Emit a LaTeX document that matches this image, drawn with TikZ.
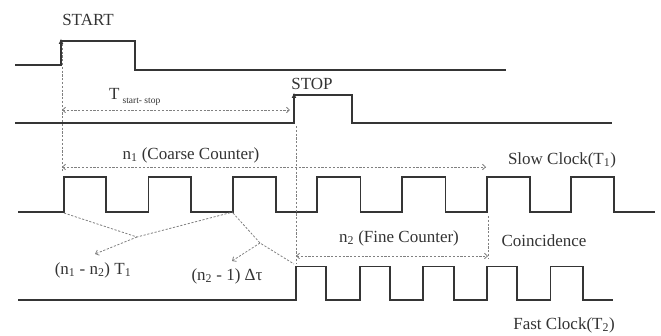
\documentclass[tikz,border=0pt]{standalone}
\usepackage{fontspec}
\setmainfont{Liberation Serif}
\usetikzlibrary{arrows.meta}
\definecolor{sigc}{HTML}{353535}
\definecolor{dimc}{HTML}{808080}
\definecolor{txtc}{HTML}{333333}
\begin{document}
\begin{tikzpicture}[x=1pt,y=-1pt,
  sig/.style={draw=sigc, line width=1.7pt, line join=miter},
  tipup/.style={draw=sigc, line width=1.7pt, -{Latex[length=5.5pt,width=5pt]}},
  dim/.style={draw=dimc, line width=0.8pt, dash pattern=on 2.2pt off 1.6pt},
  dimarr/.style={dim, -{Straight Barb[length=3pt,width=5.5pt]}},
  dimboth/.style={dim, {Straight Barb[length=3pt,width=5.5pt]}-{Straight Barb[length=3pt,width=5.5pt]}},
  lbl/.style={font=\fontsize{17}{19}\selectfont, text=txtc, inner sep=0pt}]
\useasboundingbox (0,0) rectangle (661,336);
% signals
\draw[sig] (15,65) -- (61,65) -- (61,41) -- (135,41) -- (135,70) -- (506,70);
\draw[tipup] (61,60) -- (61,38.5);
\draw[sig] (15,123) -- (294,123) -- (294,95) -- (352,95) -- (352,123) -- (612,123);
\draw[tipup] (294,118) -- (294,92.5);
\draw[sig] (18,212) -- (64,212) -- (64,177) -- (106,177) -- (106,212) -- (148.5,212) -- (148.5,177) -- (191,177) -- (191,212) -- (233,212) -- (233,177) -- (276,177) -- (276,212) -- (317,212) -- (317,177) -- (360.5,177) -- (360.5,212) -- (402,212) -- (402,177) -- (445.5,177) -- (445.5,212) -- (487,212) -- (487,177) -- (530,177) -- (530,212) -- (571,212) -- (571,177) -- (614,177) -- (614,212) -- (655,212);
\draw[sig] (18,300) -- (296,300) -- (296,266.5) -- (326,266.5) -- (326,300) -- (360,300) -- (360,266.5) -- (390,266.5) -- (390,300) -- (423,300) -- (423,266.5) -- (454,266.5) -- (454,300) -- (487,300) -- (487,266.5) -- (517,266.5) -- (517,300) -- (550.5,300) -- (550.5,266.5) -- (583,266.5) -- (583,300) -- (613,300);
% reference coordinates
\coordinate (startv1) at (62,44);
\coordinate (startv2) at (62,171);
\coordinate (stopv1) at (296,126);
\coordinate (stopv2) at (296,264);
\coordinate (coinv1) at (488,216);
\coordinate (coinv2) at (488,259);
\coordinate (tL) at (62,110);
\coordinate (tR) at (290,110);
\coordinate (n1L) at (62,167);
\coordinate (n1R) at (486,167);
\coordinate (n2L) at (296,256);
\coordinate (n2R) at (488,256);
\coordinate (bA1) at (64,213);
\coordinate (bA2) at (233,212);
\coordinate (bAm) at (137,237);
\coordinate (bAt) at (95,254);
\coordinate (bB1) at (233,213);
\coordinate (bB2) at (294,264);
\coordinate (bBm) at (260,243);
\coordinate (bBt) at (232,261);
% dashed lines
\draw[dim] (startv1) -- (startv2);
\draw[dim] (stopv1) -- (stopv2);
\draw[dim] (coinv1) -- (coinv2);
\draw[dimboth] (tL) -- (tR);
\draw[dimboth] (n1L) -- (n1R);
\draw[dimboth] (n2L) -- (n2R);
\draw[dim] (bA1) -- (bAm) -- (bA2);
\draw[dimarr] (bAm) -- (bAt);
\draw[dim] (bB1) -- (bBm) -- (bB2);
\draw[dimarr] (bBm) -- (bBt);
% labels
\node[lbl] (start) at (88,20) {START};
\node[lbl] (stop) at (312,84) {STOP};
\node[lbl, anchor=west] (tss) at (109,97) {T\hspace{3pt}\raisebox{-4pt}{\fontsize{9.5}{9.5}\selectfont start- stop}};
\node[lbl] (n1) at (191,155) {n\textsubscript{1} (Coarse Counter)};
\node[lbl] (slow) at (562,160) {Slow Clock(T\textsubscript{1})};
\node[lbl] (n2) at (399,238) {n\textsubscript{2} (Fine Counter)};
\node[lbl] (coin) at (544,241) {Coincidence};
\node[lbl] (n1n2) at (93,270) {(n\textsubscript{1} - n\textsubscript{2}) T\textsubscript{1}};
\node[lbl] (n2m1) at (227,276) {(n\textsubscript{2} - 1) Δτ};
\node[lbl] (fast) at (564,325) {Fast Clock(T\textsubscript{2})};
\end{tikzpicture}
\end{document}
